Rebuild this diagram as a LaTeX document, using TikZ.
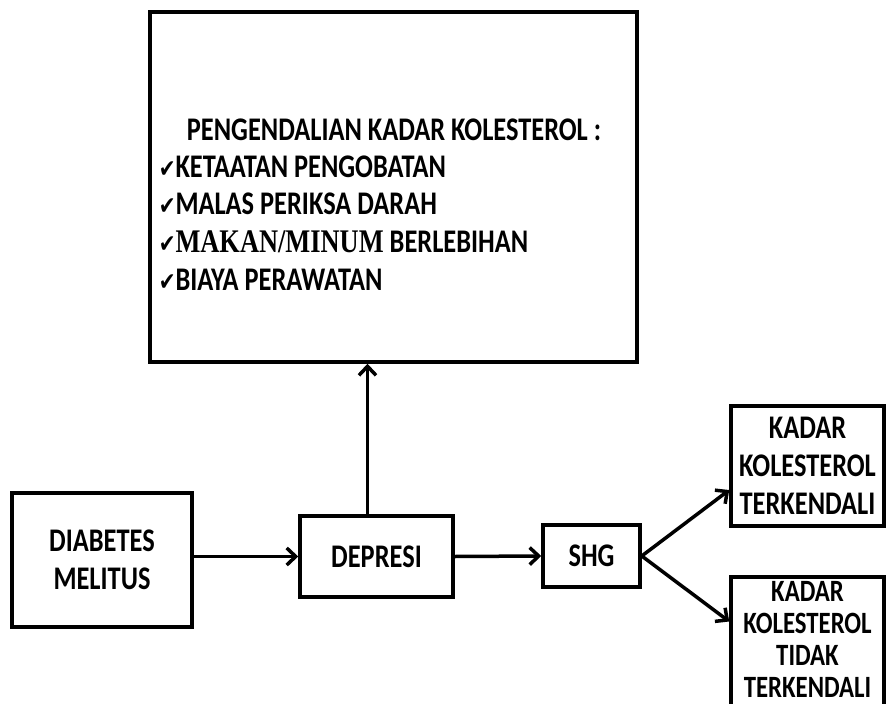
\documentclass[tikz,border=0pt]{standalone}
\usepackage{fontspec}
\setmainfont{Carlito}[FakeStretch=0.8]
\newfontfamily\checkfont{DejaVu Sans}[FakeStretch=0.8]
\newfontfamily\seriffont{Liberation Serif}[FakeStretch=0.8]
\usetikzlibrary{arrows,arrows.meta}

\tikzset{
 box/.style={draw, line width=3.5pt, align=center, inner sep=0pt, font=\fontsize{33}{38}\selectfont\bfseries},
 teks/.style={inner sep=0pt, font=\fontsize{33}{38}\selectfont\bfseries},
}

\begin{document}
\begin{tikzpicture}[x=1pt, y=-1pt, line width=3.5pt, >={Straight Barb[length=9pt,width=17pt]}]
\useasboundingbox (0,0) rectangle (887,704);
% kotak besar
\node[box, minimum width=487, minimum height=350] (kendali) at (393.5,187) {};
\node[teks, anchor=base] (judul) at (394,140) {PENGENDALIAN KADAR KOLESTEROL :};
\foreach \isi [count=\i] in {{KETAATAN PENGOBATAN}, {MALAS PERIKSA DARAH},
  {{\seriffont MAKAN/MINUM} BERLEBIHAN}, {BIAYA PERAWATAN}} {
 \node[teks, anchor=base west] (item\i) at (157,{139.3+37.7*\i}) {{\checkfont\fontsize{25}{25}\selectfont ✔}\isi};
}
% alur
\node[box, minimum width=180, minimum height=134] (dm) at (102,560) {DIABETES\\MELITUS};
\node[box, minimum width=153, minimum height=81] (depresi) at (376.5,556.5) {DEPRESI};
\node[box, minimum width=97, minimum height=62] (shg) at (591.5,556) {SHG};
\node[box, minimum width=153, minimum height=120] (kt) at (807.5,466) {KADAR\\KOLESTEROL\\TERKENDALI};
\node[box, minimum width=153, minimum height=137, font=\fontsize{31}{32}\selectfont\bfseries] (ktt) at (807.5,645.5) {KADAR\\KOLESTEROL\\TIDAK\\TERKENDALI\\[-19pt]\mbox{}};

\draw[->] (dm.east |- depresi.west) -- (depresi.west);
\draw[->] (depresi.east) -- (shg.west);
\draw[->] ([xshift=-9pt]depresi.north) -- ([xshift=-9pt]depresi.north |- kendali.south);
\draw[->] (shg.east) -- ([yshift=-24pt]kt.west);
\draw[->] (shg.east) -- ([yshift=24pt]ktt.west);
\end{tikzpicture}
\end{document}
